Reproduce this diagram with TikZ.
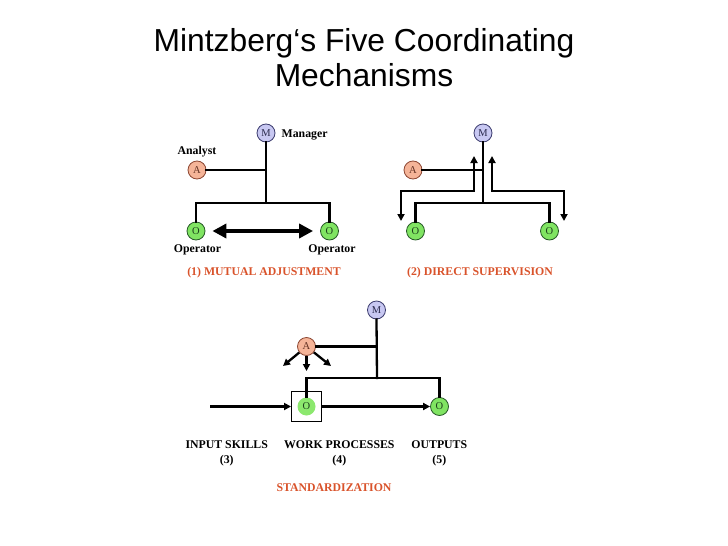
\documentclass[tikz,border=0pt]{standalone}
\usepackage{fontspec}
\setmainfont{Liberation Serif}
\newfontfamily\titlefont{Liberation Sans}
\usetikzlibrary{arrows.meta}
\definecolor{mfill}{RGB}{200,200,242}
\definecolor{mline}{RGB}{60,60,110}
\definecolor{afill}{RGB}{245,180,152}
\definecolor{aline}{RGB}{140,70,50}
\definecolor{ofill}{RGB}{128,228,98}
\definecolor{oline}{RGB}{40,90,40}
\definecolor{ofill2}{RGB}{140,232,110}
\definecolor{redlbl}{RGB}{217,83,43}
\tikzset{
  circ/.style={circle, inner sep=0pt, minimum size=18pt, line width=0.8pt, font=\fontsize{10.5}{10.5}\selectfont},
  mnode/.style={circ, draw=mline, fill=mfill, text=mline!70!black},
  anode/.style={circ, draw=aline, fill=afill, text=aline!70!black},
  onode/.style={circ, draw=oline, fill=ofill, text=oline!70!black},
  onodeb/.style={circ, fill=ofill2, text=oline!70!black},
  lbl/.style={anchor=base, inner sep=0pt, font=\bfseries\fontsize{11.8}{11.8}\selectfont},
  rlbl/.style={lbl, text=redlbl},
  wire/.style={line width=2.3pt, line cap=rect},
  sarr/.style={line width=2.3pt, -{Triangle[length=7pt,width=7pt]}},
  sarrb/.style={line width=2.3pt, {Triangle[length=7pt,width=7pt]}-{Triangle[length=7pt,width=7pt]}},
  dbl/.style={line width=4pt, {Triangle[length=14pt,width=14pt]}-{Triangle[length=14pt,width=14pt]}},
}
\begin{document}
\begin{tikzpicture}[x=1pt,y=-1pt]
\useasboundingbox (0,0) rectangle (728,546);
% title
\node[anchor=base, inner sep=0pt, font=\titlefont\fontsize{31.8}{31.8}\selectfont] (t1) at (364,51.7) {Mintzberg‘s Five Coordinating};
\node[anchor=base, inner sep=0pt, font=\titlefont\fontsize{31.8}{31.8}\selectfont] (t2) at (364,86.7) {Mechanisms};

% ---------- panel 1 ----------
\node[mnode] (M1) at (266,133) {M};
\node[anode] (A1) at (197,170) {A};
\node[onode] (O1a) at (196,231) {O};
\node[onode] (O1b) at (329.5,231) {O};
\coordinate (j1) at (266,203);
\draw[wire] (M1.south) -- (j1);
\draw[wire] (A1.east) -- (A1 -| M1);
\draw[wire] (O1a.north) |- (j1) -| (O1b.north);
\draw[dbl, shorten <=7pt, shorten >=7pt] (O1a) -- (O1b);
\node[lbl, anchor=base west] (man) at (281.5,137) {Manager};
\node[lbl] (ana) at (197,154) {Analyst};
\node[lbl] (op1) at (197.5,252) {Operator};
\node[lbl] (op2) at (332,252) {Operator};
\node[rlbl] (cap1) at (264,275) {(1) MUTUAL ADJUSTMENT};

% ---------- panel 2 ----------
\node[mnode] (M2) at (483,133) {M};
\node[anode] (A2) at (413,170) {A};
\node[onode] (O2a) at (415.5,231) {O};
\node[onode] (O2b) at (549.5,231) {O};
\coordinate (j2) at (483,203);
\draw[wire] (M2.south) -- (j2);
\draw[wire] (A2.east) -- (A2 -| M2);
\draw[wire] (O2a.north) |- (j2) -| (O2b.north);
\coordinate (d2l) at (401,221);
\coordinate (u2l) at (474,156);
\coordinate (d2r) at (564,221);
\coordinate (u2r) at (492,156);
\draw[sarrb] (d2l) -- ++(0,-30) -| (u2l);
\draw[sarrb] (d2r) -- ++(0,-30) -| (u2r);
\node[rlbl] (cap2) at (480,275) {(2) DIRECT SUPERVISION};

% ---------- panel 3 ----------
\node[mnode] (M3) at (376.5,310) {M};
\node[anode] (A3) at (306.5,346.5) {A};
\node[onodeb] (O3a) at (306.5,406.5) {O};
\node[onode] (O3b) at (439.5,406.5) {O};
\node[draw, line width=0.9pt, minimum size=30pt, inner sep=0pt] (box) at (306.5,406.5) {};
\coordinate (j3) at (377,378);
\draw[wire] (M3.south) -- (j3);
\draw[wire] (A3.east) -- (A3 -| M3);
\draw[wire] (O3a.north) |- (j3) -| (O3b.north);
\coordinate (in3) at (210,406.5);
\draw[sarr] (in3) -- (box.west);
\draw[sarr] (box.east) -- (O3b.west);
\coordinate (a3l) at (283,366);
\coordinate (a3d) at (306.5,371);
\coordinate (a3r) at (331,366);
\draw[sarr] (A3) -- (a3l);
\draw[sarr] (A3.south) -- (a3d);
\draw[sarr] (A3) -- (a3r);
\node[lbl] (l3a) at (226.7,448) {INPUT SKILLS};
\node[lbl] (l3b) at (226.7,463) {(3)};
\node[lbl] (l4a) at (339.3,448) {WORK PROCESSES};
\node[lbl] (l4b) at (339.3,463) {(4)};
\node[lbl] (l5a) at (439.3,448) {OUTPUTS};
\node[lbl] (l5b) at (439.3,463) {(5)};
\node[rlbl] (cap3) at (334,491) {STANDARDIZATION};
\end{tikzpicture}
\end{document}
